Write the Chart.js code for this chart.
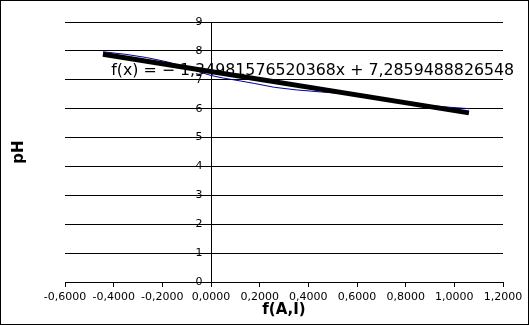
<!DOCTYPE html>
<html>
<head>
<meta charset="utf-8">
<script src="https://cdn.jsdelivr.net/npm/chart.js@4/dist/chart.umd.min.js"></script>
<style>
  html, body { margin: 0; padding: 0; background: #fff; }
  #wrap { width: 529px; height: 325px; }
</style>
</head>
<body>
<div id="wrap"><canvas id="ph-chart" width="529" height="325"></canvas></div>
<script>
const fValues = [-0.444, -0.35, -0.265, -0.18, -0.1, -0.04, 0.0, 0.05, 0.12, 0.18, 0.26, 0.35, 0.45, 0.58, 0.7, 0.8, 0.9, 0.98, 1.06];
const phValues = [7.97, 7.88, 7.77, 7.62, 7.43, 7.25, 7.15, 7.06, 6.96, 6.87, 6.74, 6.65, 6.58, 6.5, 6.36, 6.22, 6.11, 6.05, 6.0];

// linear trend line
const trendSlope = -1.34981576520368;
const trendIntercept = 7.2859488826548;
const trendLabel = 'f(x) = \u2212 1,34981576520368x + 7,2859488826548';

const xTicks = [-0.6, -0.4, -0.2, 0, 0.2, 0.4, 0.6, 0.8, 1.0, 1.2];
const yTicks = [0, 1, 2, 3, 4, 5, 6, 7, 8, 9];

const FONT = '"DejaVu Sans", sans-serif';

const dataPoints = fValues.map((x, i) => ({ x: x, y: phValues[i] }));
const xFirst = fValues[0];
const xLast = fValues[fValues.length - 1];
const trendPoints = [xFirst, xLast].map(x => ({ x: x, y: trendSlope * x + trendIntercept }));

// frame + white background
const framePlugin = {
  id: 'frame',
  beforeDraw(chart) {
    const c = chart.ctx;
    c.save();
    c.fillStyle = '#fff';
    c.fillRect(0, 0, chart.width, chart.height);
    c.strokeStyle = '#000';
    c.lineWidth = 1;
    c.strokeRect(0.5, 0.5, chart.width - 1, chart.height - 1);
    c.restore();
  }
};

// vertical axis crossing at x = 0 with its labels, plus the trend equation
const crossAxisPlugin = {
  id: 'crossAxis',
  beforeDatasetsDraw(chart) {
    const c = chart.ctx;
    const xs = chart.scales.x;
    const ys = chart.scales.y;
    const px = Math.round(xs.getPixelForValue(0)) + 0.5;
    c.save();
    c.strokeStyle = '#000';
    c.lineWidth = 1;
    c.beginPath();
    c.moveTo(px, ys.getPixelForValue(9));
    c.lineTo(px, ys.getPixelForValue(0) + 5);
    c.stroke();
    c.fillStyle = '#000';
    c.font = '11px ' + FONT;
    c.textAlign = 'right';
    c.textBaseline = 'middle';
    yTicks.forEach(v => {
      c.fillText(String(v), px - 9, ys.getPixelForValue(v));
    });
    c.restore();
  },
  afterDatasetsDraw(chart) {
    const c = chart.ctx;
    const xs = chart.scales.x;
    const ys = chart.scales.y;
    c.save();
    c.fillStyle = '#000';
    c.font = '15.8px ' + FONT;
    c.textAlign = 'left';
    c.textBaseline = 'middle';
    c.fillText(trendLabel, xs.getPixelForValue(-0.41), ys.getPixelForValue(7.32));
    c.restore();
  }
};

new Chart(document.getElementById('ph-chart'), {
  type: 'scatter',
  data: {
    datasets: [
      {
        label: 'trend',
        data: trendPoints,
        showLine: true,
        borderColor: '#000',
        borderWidth: 5,
        pointRadius: 0,
        order: 0
      },
      {
        label: 'pH',
        data: dataPoints,
        showLine: true,
        borderColor: '#000099',
        borderWidth: 1,
        pointRadius: 0,
        tension: 0,
        order: 1
      }
    ]
  },
  options: {
    responsive: false,
    animation: false,
    layout: { padding: { top: 22, right: 26, left: 0, bottom: 0 } },
    plugins: {
      legend: { display: false },
      tooltip: { enabled: false }
    },
    scales: {
      x: {
        type: 'linear',
        position: 'bottom',
        min: -0.6,
        max: 1.2,
        afterBuildTicks: scale => { scale.ticks = xTicks.map(v => ({ value: v })); },
        afterFit: scale => { scale.height = 43; },
        grid: { drawOnChartArea: false, drawTicks: true, tickLength: 5, color: '#000' },
        border: { display: true, color: '#000', width: 1 },
        ticks: {
          color: '#000',
          font: { family: FONT, size: 11 },
          padding: 4,
          maxRotation: 0,
          autoSkip: false,
          callback: v => v.toFixed(4).replace('.', ',')
        },
        title: {
          display: true,
          text: 'f(A,I)',
          color: '#000',
          font: { family: FONT, size: 15, weight: 'bold' },
          padding: { top: 0, bottom: 6 }
        }
      },
      y: {
        type: 'linear',
        position: 'left',
        min: 0,
        max: 9,
        afterBuildTicks: scale => { scale.ticks = yTicks.map(v => ({ value: v })); },
        afterFit: scale => { scale.width = 65; },
        grid: { drawTicks: false, color: '#000' },
        border: { display: false },
        ticks: { display: false },
        title: {
          display: true,
          text: 'pH',
          color: '#000',
          font: { family: FONT, size: 15, weight: 'bold' },
          padding: { top: 10, bottom: 0 }
        }
      }
    }
  },
  plugins: [framePlugin, crossAxisPlugin]
});
</script>
</body>
</html>
